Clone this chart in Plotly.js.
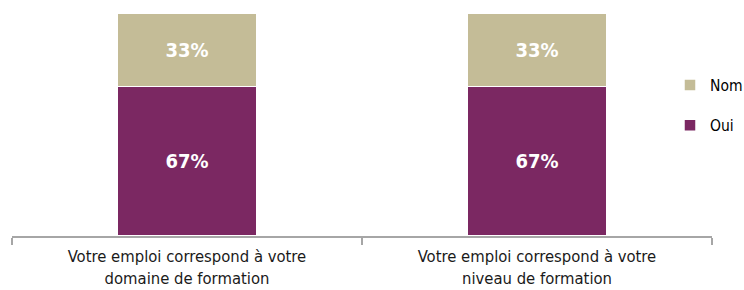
<!DOCTYPE html>
<html>
<head>
<meta charset="utf-8">
<script src="https://cdn.plot.ly/plotly-3.0.1.min.js"></script>
<style>html,body{margin:0;padding:0;background:#fff;}#chart{width:744px;height:290px;}</style>
</head>
<body>
<div id="chart"></div>
<script>
var categories = ["Votre emploi correspond à votre<br>domaine de formation", "Votre emploi correspond à votre<br>niveau de formation"];
var seriesNames = ["Oui", "Nom"];
var ouiValues = [67, 67];
var nonValues = [33, 33];

var FAMILY = "Liberation Sans Narrow, DejaVu Sans Condensed, Liberation Sans, sans-serif";
function f(size, color, weight) {
  return {family: FAMILY, size: size, color: color, stretch: "condensed", weight: weight || "normal"};
}

var traces = [
  {
    type: "bar", name: seriesNames[0], x: categories, y: ouiValues,
    legendgroup: "oui", legendrank: 2,
    marker: {color: "#7B2862", line: {color: "#ffffff", width: 1.5}},
    texttemplate: "%{y}%", textposition: "inside", insidetextanchor: "middle",
    textfont: f(20, "#ffffff", "bold"),
    hoverinfo: "none"
  },
  {
    type: "bar", name: seriesNames[1], x: categories, y: nonValues,
    legendgroup: "non", legendrank: 1,
    marker: {color: "#C4BC97", line: {color: "#ffffff", width: 1.5}},
    texttemplate: "%{y}%", textposition: "inside", insidetextanchor: "middle",
    textfont: f(20, "#ffffff", "bold"),
    hoverinfo: "none"
  }
];

var layout = {
  width: 744, height: 290,
  margin: {l: 12, r: 32, t: 13, b: 54, pad: 0, autoexpand: false},
  barmode: "stack",
  bargap: 0.6,
  paper_bgcolor: "#ffffff", plot_bgcolor: "#ffffff",
  font: f(16, "#1a1a1a"),
  xaxis: {
    type: "category",
    showline: true, linecolor: "#A6A6A6", linewidth: 1.5,
    ticks: "outside", tickson: "boundaries", ticklen: 7, tickcolor: "#A6A6A6", tickwidth: 1.5,
    tickfont: f(16.5, "#1a1a1a"),
    ticklabelstandoff: 5,
    showgrid: false, zeroline: false, fixedrange: true
  },
  yaxis: {
    range: [0, 100], visible: false, showgrid: false, zeroline: false, fixedrange: true
  },
  showlegend: true,
  legend: {
    x: 0.94, xanchor: "left", y: 0.585, yanchor: "middle",
    traceorder: "grouped", tracegroupgap: 17,
    font: f(15.5, "#000000"),
    bgcolor: "rgba(0,0,0,0)", borderwidth: 0
  }
};

Plotly.newPlot("chart", traces, layout, {displayModeBar: false, staticPlot: true});
</script>
</body>
</html>
